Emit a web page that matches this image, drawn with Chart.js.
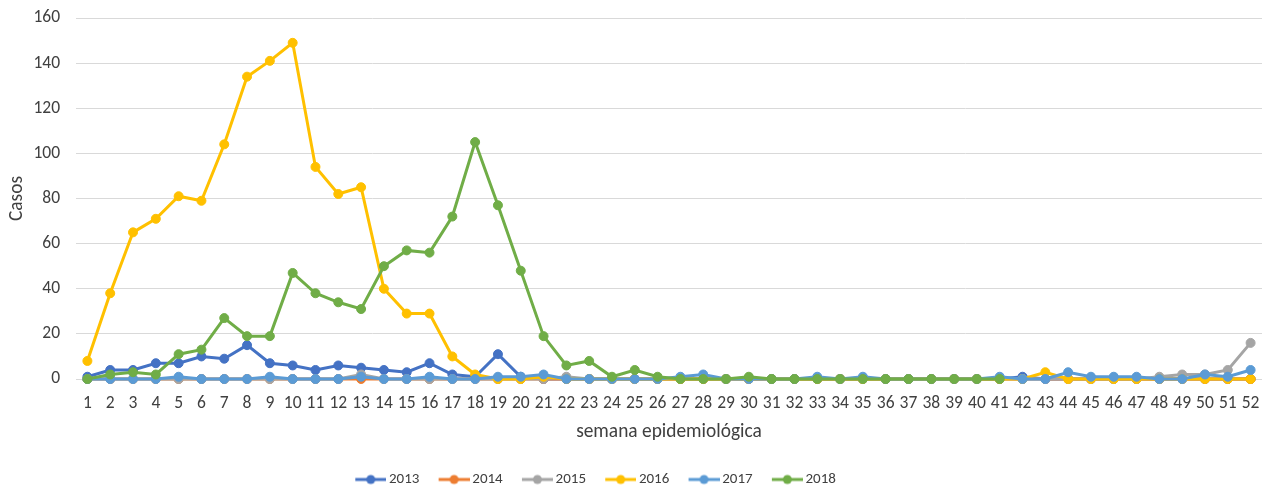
<!DOCTYPE html>
<html>
<head>
<meta charset="utf-8">
<script src="https://cdn.jsdelivr.net/npm/chart.js@4/dist/chart.umd.min.js"></script>
<style>
  html, body { margin: 0; padding: 0; background: #ffffff; }
  #wrap { width: 1262px; height: 487px; position: relative; }
</style>
</head>
<body>
<div id="wrap"><canvas id="c" width="1262" height="487"></canvas></div>
<script>
const weeks = ['1','2','3','4','5','6','7','8','9','10','11','12','13','14','15','16','17','18','19','20','21','22','23','24','25','26','27','28','29','30','31','32','33','34','35','36','37','38','39','40','41','42','43','44','45','46','47','48','49','50','51','52'];

const seriesNames = ['2013', '2014', '2015', '2016', '2017', '2018'];

const cases2013 = [1,4,4,7,7,10,9,15,7,6, 4,6,5,4,3,7,2,1,11,1, 0,0,0,0,0,0,0,0,0,0, 0,0,0,0,0,0,0,0,0,0, 0,1,0,0,0,0,0,0,0,0, 0,0];
const cases2014 = [0,0,0,0,0,0,0,0,0,0, 0,0,0,0,0,0,0,0,0,0, 0,0,0,0,0,0,0,0,0,0, 0,0,0,0,0,0,0,0,0,0, 0,0,0,0,0,0,0,0,0,0, 0,0];
const cases2015 = [0,0,0,0,0,0,0,0,0,0, 0,0,2,0,0,0,0,0,0,0, 0,1,0,0,0,0,0,0,0,0, 0,0,0,0,0,0,0,0,0,0, 0,0,0,0,0,0,0,1,2,2, 4,16];
const cases2016 = [8,38,65,71,81,79,104,134,141,149, 94,82,85,40,29,29,10,2,0,0, 1,0,0,0,0,0,0,0,0,0, 0,0,0,0,0,0,0,0,0,0, 0,0,3,0,0,0,0,0,0,0, 0,0];
const cases2017 = [0,0,0,0,1,0,0,0,1,0, 0,0,1,0,0,1,0,0,1,1, 2,0,0,0,0,0,1,2,0,0, 0,0,1,0,1,0,0,0,0,0, 1,0,0,3,1,1,1,0,0,2, 1,4];
const cases2018 = [0,2,3,2,11,13,27,19,19,47, 38,34,31,50,57,56,72,105,77,48, 19,6,8,1,4,1,0,0,0,1, 0,0,0,0,0,0,0,0,0,0, 0,null,null,null,null,null,null,null,null,null, null,null];

const yTicks = [0, 20, 40, 60, 80, 100, 120, 140, 160];

const seriesValues = [cases2013, cases2014, cases2015, cases2016, cases2017, cases2018];
const seriesColors = ['#4472C4', '#ED7D31', '#A5A5A5', '#FFC000', '#5B9BD5', '#70AD47'];

const FONT = 'Carlito, Calibri, "Liberation Sans", sans-serif';
const TEXT = '#404040';

function legendMarker(color) {
  const cv = document.createElement('canvas');
  cv.width = 45; cv.height = 12;
  const g = cv.getContext('2d');
  g.strokeStyle = color; g.lineWidth = 3;
  g.beginPath(); g.moveTo(14, 6); g.lineTo(45, 6); g.stroke();
  g.fillStyle = color;
  g.beginPath(); g.arc(29.5, 6, 4.5, 0, Math.PI * 2); g.fill();
  return cv;
}
const markers = seriesColors.map(legendMarker);

const datasets = seriesNames.map((name, i) => ({
  label: name,
  data: seriesValues[i],
  borderColor: seriesColors[i],
  backgroundColor: seriesColors[i],
  pointBackgroundColor: seriesColors[i],
  pointBorderColor: seriesColors[i],
  borderWidth: 3,
  pointRadius: 4.5,
  pointBorderWidth: 1,
  tension: 0,
  fill: false,
  clip: false,
  order: seriesNames.length - i
}));

const legendPlacer = {
  id: 'legendPlacer',
  afterLayout(chart) {
    const lg = chart.legend;
    if (!lg) return;
    const dx = -40;
    lg.left += dx; lg.right += dx;
    const h = lg.bottom - lg.top;
    lg.top = 462; lg.bottom = 462 + h;
  }
};

new Chart(document.getElementById('c'), {
  type: 'line',
  data: { labels: weeks, datasets },
  plugins: [legendPlacer],
  options: {
    responsive: false,
    animation: false,
    devicePixelRatio: 1,
    layout: { autoPadding: false, padding: { left: 0, right: 0, top: 18, bottom: 0 } },
    plugins: {
      tooltip: { enabled: false },
      legend: {
        display: true,
        position: 'bottom',
        labels: {
          usePointStyle: true,
          pointStyleWidth: 35.4,
          padding: 10,
          color: TEXT,
          font: { family: FONT, size: 15 },
          generateLabels(chart) {
            return chart.data.datasets.map((ds, i) => ({
              text: ds.label,
              fillStyle: ds.borderColor,
              strokeStyle: ds.borderColor,
              lineWidth: 0,
              pointStyle: markers[i],
              hidden: false,
              datasetIndex: i,
              fontColor: TEXT
            }));
          }
        }
      }
    },
    scales: {
      x: {
        type: 'category',
        offset: true,
        grid: { display: false, drawTicks: false },
        border: { display: false },
        ticks: {
          autoSkip: false, maxRotation: 0, minRotation: 0,
          padding: 14, color: TEXT,
          font: { family: FONT, size: 17.5 }
        },
        title: {
          display: true, text: 'semana epidemiológica', color: TEXT,
          font: { family: FONT, size: 19.4 }, padding: { top: 0, bottom: 8 }
        },
        afterFit(scale) {
          scale.height = 73;
          scale.paddingLeft = 0;
          scale.paddingRight = 0;
        }
      },
      y: {
        min: 0, max: 160,
        afterBuildTicks(scale) { scale.ticks = yTicks.map(v => ({ value: v })); },
        grid: { color: '#d9d9d9', lineWidth: 1, drawTicks: false },
        border: { display: false },
        ticks: {
          padding: 16, color: TEXT,
          font: { family: FONT, size: 17.5 }
        },
        title: {
          display: true, text: 'Casos', color: TEXT,
          font: { family: FONT, size: 19.4 }, padding: { top: 6, bottom: 0 }
        },
        afterFit(scale) {
          scale.width = 76;
          scale.paddingTop = 0;
          scale.paddingBottom = 0;
        }
      }
    }
  }
});
</script>
</body>
</html>
